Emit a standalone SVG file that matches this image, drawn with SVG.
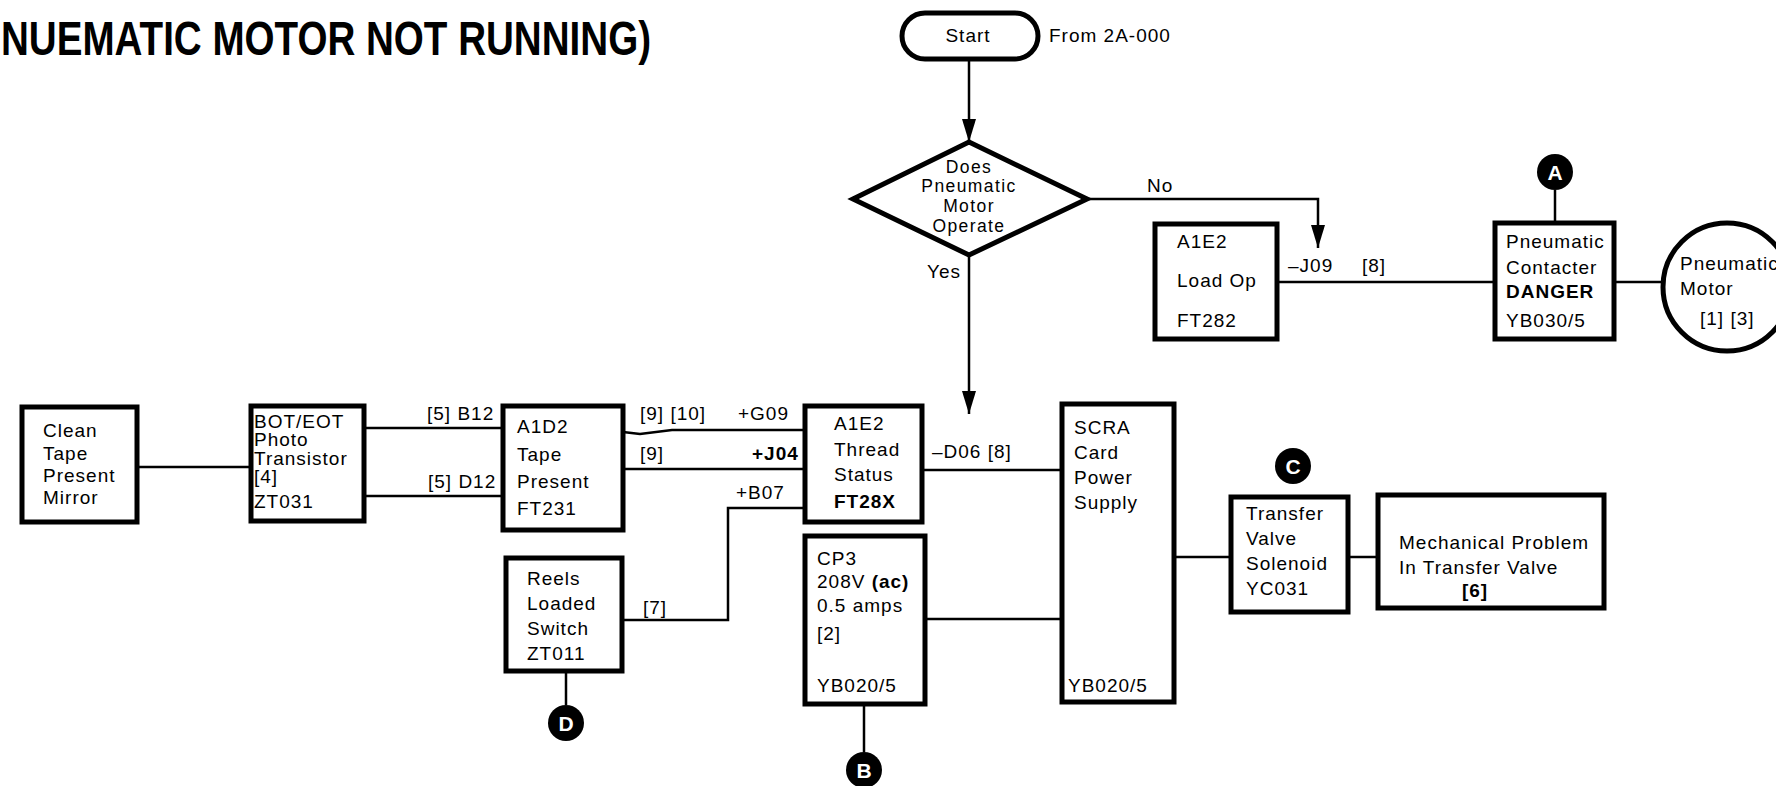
<svg xmlns="http://www.w3.org/2000/svg" width="1776" height="786" viewBox="0 0 1776 786">
<defs>
<style>
.box{fill:#fff;stroke:#000;stroke-width:5}
.ln{fill:none;stroke:#000;stroke-width:2.5}
.t{font-family:"Liberation Sans",Arial,sans-serif;font-size:19px;letter-spacing:1px;fill:#000}
.s{font-size:17.5px;letter-spacing:1.4px}
.b{font-weight:bold}
.c{text-anchor:middle}
.dot{fill:#000}
.dl{font-family:"Liberation Sans",Arial,sans-serif;font-size:21px;font-weight:bold;fill:#fff;text-anchor:middle}
</style>
<marker id="ah" markerUnits="userSpaceOnUse" markerWidth="24" markerHeight="14" refX="23" refY="7" orient="auto">
<path d="M0,0 L23,7 L0,14 z" fill="#000"/>
</marker>
</defs>
<rect width="1776" height="786" fill="#fff"/>
<text x="1" y="55" font-family="Liberation Sans,Arial,sans-serif" font-size="48" font-weight="bold" textLength="650" lengthAdjust="spacingAndGlyphs">NUEMATIC MOTOR NOT RUNNING)</text>

<g id="connectors">
<path class="ln" d="M969,59 V142" marker-end="url(#ah)"/>
<path class="ln" d="M1087,199 H1318 V248" marker-end="url(#ah)"/>
<path class="ln" d="M969,255 V414" marker-end="url(#ah)"/>
<path class="ln" d="M137,467 H251"/>
<path class="ln" d="M364,428 H503"/>
<path class="ln" d="M364,496 H503"/>
<path class="ln" d="M623,432 L640,434 L672,430 H805"/>
<path class="ln" d="M623,469 H805"/>
<path class="ln" d="M805,508 H728 V620 H622"/>
<path class="ln" d="M922,470 H1062"/>
<path class="ln" d="M925,619 H1062"/>
<path class="ln" d="M1174,557 H1231"/>
<path class="ln" d="M1348,557 H1378"/>
<path class="ln" d="M1277,282 H1495"/>
<path class="ln" d="M1614,282 H1664"/>
<path class="ln" d="M1555,190 V223"/>
<path class="ln" d="M566,671 V705"/>
<path class="ln" d="M864,704 V752"/>
<text class="t" x="1147" y="192">No</text>
<text class="t" x="927" y="278">Yes</text>
<text class="t" x="427" y="420">[5] B12</text>
<text class="t" x="428" y="488">[5] D12</text>
<text class="t" x="640" y="420">[9] [10]</text>
<text class="t" x="738" y="420">+G09</text>
<text class="t" x="640" y="460">[9]</text>
<text class="t b" x="752" y="460">+J04</text>
<text class="t" x="736" y="499">+B07</text>
<text class="t" x="643" y="614">[7]</text>
<text class="t" x="932" y="458">–D06 [8]</text>
<text class="t" x="1288" y="272">–J09</text>
<text class="t" x="1362" y="272">[8]</text>
</g>

<g id="start">
<rect class="box" x="902" y="13" width="136" height="46" rx="23"/>
<text class="t c" x="968" y="42">Start</text>
<text class="t" x="1049" y="42">From 2A-000</text>
</g>

<g id="decision">
<polygon class="box" points="969,142 1087,199 969,255 853,199"/>
<text class="t s c" x="969" y="173">Does</text>
<text class="t s c" x="969" y="192">Pneumatic</text>
<text class="t s c" x="969" y="212">Motor</text>
<text class="t s c" x="969" y="232">Operate</text>
</g>

<g id="loadop">
<rect class="box" x="1155" y="224" width="122" height="115"/>
<text class="t" x="1177" y="248">A1E2</text>
<text class="t" x="1177" y="287">Load Op</text>
<text class="t" x="1177" y="327">FT282</text>
</g>

<g id="contacter">
<rect class="box" x="1495" y="223" width="119" height="116"/>
<text class="t" x="1506" y="248">Pneumatic</text>
<text class="t" x="1506" y="274">Contacter</text>
<text class="t b" x="1506" y="298">DANGER</text>
<text class="t" x="1506" y="327">YB030/5</text>
</g>

<g id="motor">
<circle class="box" cx="1727" cy="287" r="64"/>
<text class="t" x="1680" y="270">Pneumatic</text>
<text class="t" x="1680" y="295">Motor</text>
<text class="t" x="1700" y="325">[1] [3]</text>
</g>

<g id="clean">
<rect class="box" x="22" y="407" width="115" height="115"/>
<text class="t" x="43" y="437">Clean</text>
<text class="t" x="43" y="460">Tape</text>
<text class="t" x="43" y="482">Present</text>
<text class="t" x="43" y="504">Mirror</text>
</g>

<g id="bot">
<rect class="box" x="251" y="406" width="113" height="115"/>
<text class="t" x="254" y="428">BOT/EOT</text>
<text class="t" x="254" y="446">Photo</text>
<text class="t" x="254" y="465">Transistor</text>
<text class="t" x="254" y="483">[4]</text>
<text class="t" x="254" y="508">ZT031</text>
</g>

<g id="a1d2">
<rect class="box" x="503" y="406" width="120" height="124"/>
<text class="t" x="517" y="433">A1D2</text>
<text class="t" x="517" y="461">Tape</text>
<text class="t" x="517" y="488">Present</text>
<text class="t" x="517" y="515">FT231</text>
</g>

<g id="thread">
<rect class="box" x="805" y="406" width="117" height="116"/>
<text class="t" x="834" y="430">A1E2</text>
<text class="t" x="834" y="456">Thread</text>
<text class="t" x="834" y="481">Status</text>
<text class="t b" x="834" y="508">FT28X</text>
</g>

<g id="reels">
<rect class="box" x="506" y="558" width="116" height="113"/>
<text class="t" x="527" y="585">Reels</text>
<text class="t" x="527" y="610">Loaded</text>
<text class="t" x="527" y="635">Switch</text>
<text class="t" x="527" y="660">ZT011</text>
</g>

<g id="cp3">
<rect class="box" x="805" y="536" width="120" height="168"/>
<text class="t" x="817" y="565">CP3</text>
<text class="t" x="817" y="588">208V <tspan class="b">(ac)</tspan></text>
<text class="t" x="817" y="612">0.5 amps</text>
<text class="t" x="817" y="640">[2]</text>
<text class="t" x="817" y="692">YB020/5</text>
</g>

<g id="scra">
<rect class="box" x="1062" y="404" width="112" height="298"/>
<text class="t" x="1074" y="434">SCRA</text>
<text class="t" x="1074" y="459">Card</text>
<text class="t" x="1074" y="484">Power</text>
<text class="t" x="1074" y="509">Supply</text>
<text class="t" x="1068" y="692">YB020/5</text>
</g>

<g id="transfer">
<rect class="box" x="1231" y="497" width="117" height="115"/>
<text class="t" x="1246" y="520">Transfer</text>
<text class="t" x="1246" y="545">Valve</text>
<text class="t" x="1246" y="570">Solenoid</text>
<text class="t" x="1246" y="595">YC031</text>
</g>

<g id="mechanical">
<rect class="box" x="1378" y="495" width="226" height="113"/>
<text class="t" x="1399" y="549">Mechanical Problem</text>
<text class="t" x="1399" y="574">In Transfer Valve</text>
<text class="t b c" x="1475" y="597">[6]</text>
</g>

<g id="conn-a">
<circle class="dot" cx="1555" cy="172" r="18"/>
<text class="dl" x="1555" y="180">A</text>
</g>
<g id="conn-b">
<circle class="dot" cx="864" cy="770" r="18"/>
<text class="dl" x="864" y="778">B</text>
</g>
<g id="conn-c">
<circle class="dot" cx="1293" cy="466" r="18"/>
<text class="dl" x="1293" y="474">C</text>
</g>
<g id="conn-d">
<circle class="dot" cx="566" cy="723" r="18"/>
<text class="dl" x="566" y="731">D</text>
</g>
</svg>
